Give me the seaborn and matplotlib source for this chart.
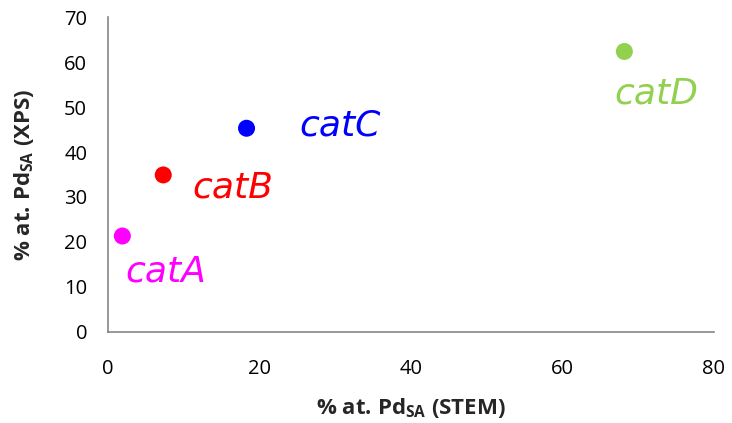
import matplotlib
matplotlib.use("Agg")
import matplotlib.pyplot as plt
import seaborn as sns
import pandas as pd

# values
catalysts = ["catA", "catB", "catC", "catD"]
stem_pct = [1.9, 7.3, 18.3, 68.2]
xps_pct = [21.3, 34.9, 45.3, 62.4]
colors = ["#FF00FF", "#FF0000", "#0000FF", "#92D050"]
# where each label sits (data coords, text centre)
label_x = [7.7, 16.5, 30.6, 72.4]
label_y = [13.3, 32.0, 45.8, 53.0]

df = pd.DataFrame({"cat": catalysts, "stem": stem_pct, "xps": xps_pct})

sns.set_style("white")
plt.rcParams["font.family"] = ["Open Sans", "DejaVu Sans"]
plt.rcParams["mathtext.fontset"] = "custom"
plt.rcParams["mathtext.bf"] = "Open Sans:bold"
plt.rcParams["mathtext.rm"] = "Open Sans"

fig = plt.figure(figsize=(7.32, 4.23), dpi=100)
ax = fig.add_axes([0.1475, 0.216, 0.8275, 0.743])

sns.scatterplot(data=df, x="stem", y="xps", hue="cat", palette=colors,
                s=150, edgecolor="none", legend=False, ax=ax, zorder=3)

for name, x, y, c in zip(catalysts, label_x, label_y, colors):
    ax.text(x, y, name, color=c, fontsize=26, style="italic",
            family=["DejaVu Sans"], ha="center", va="center")

ax.set_xlim(0, 80)
ax.set_ylim(0, 70)
ax.set_xticks([0, 20, 40, 60, 80])
ax.set_yticks(range(0, 71, 10))

for side in ["top", "right"]:
    ax.spines[side].set_visible(False)
for side in ["left", "bottom"]:
    ax.spines[side].set_color("#868686")
    ax.spines[side].set_linewidth(1.2)

ax.tick_params(axis="both", direction="out", length=6, width=1.2,
               color="#868686", labelsize=14.5, labelcolor="black", pad=9)
ax.tick_params(axis="x", pad=14)

ax.set_xlabel(r"% at. Pd$_{\mathbf{SA}}$ (STEM)", fontsize=16,
              fontweight="bold", labelpad=12)
ax.set_ylabel(r"% at. Pd$_{\mathbf{SA}}$ (XPS)", fontsize=16,
              fontweight="bold", labelpad=20)

fig.savefig("out.png", dpi=100)
